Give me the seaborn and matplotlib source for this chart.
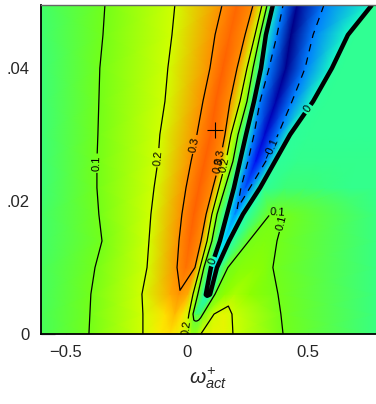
import numpy as np
import matplotlib
matplotlib.use("Agg")
import matplotlib.pyplot as plt
from matplotlib.colors import LinearSegmentedColormap, Normalize
import seaborn as sns


# heights of the sampled profile rows (bottom to top)
ROW_Y = [0.0, 0.003, 0.006, 0.010, 0.014, 0.018, 0.022, 0.026, 0.030, 0.035, 0.040, 0.045, 0.0495]

# omega_act positions of the profile points along every row
ROW_OMEGA = [
    [-0.603, -0.405, -0.182, -0.112, -0.070, -0.037, -0.012, 0.004, 0.017, 0.025, 0.033, 0.041, 0.050, 0.062, 0.103, 0.153, 0.190, 0.397, 0.781],
    [-0.603, -0.401, -0.182, -0.091, -0.050, -0.021, 0.008, 0.025, 0.033, 0.039, 0.045, 0.052, 0.058, 0.066, 0.112, 0.153, 0.186, 0.388, 0.781],
    [-0.603, -0.397, -0.186, -0.070, -0.033, 0.004, 0.025, 0.045, 0.070, 0.079, 0.087, 0.095, 0.103, 0.116, 0.157, 0.198, 0.260, 0.376, 0.781],
    [-0.603, -0.380, -0.165, -0.041, -0.004, 0.033, 0.054, 0.070, 0.099, 0.105, 0.112, 0.118, 0.124, 0.169, 0.219, 0.281, 0.322, 0.355, 0.781],
    [-0.603, -0.351, -0.157, -0.033, 0.012, 0.058, 0.083, 0.103, 0.136, 0.147, 0.155, 0.165, 0.174, 0.256, 0.293, 0.322, 0.347, 0.372, 0.781],
    [-0.603, -0.364, -0.149, -0.021, 0.029, 0.079, 0.103, 0.124, 0.165, 0.182, 0.198, 0.215, 0.231, 0.343, 0.360, 0.372, 0.384, 0.401, 0.781],
    [-0.603, -0.372, -0.136, -0.004, 0.050, 0.107, 0.132, 0.157, 0.194, 0.223, 0.242, 0.260, 0.302, 0.314, 0.405, 0.488, 0.570, 0.674, 0.781],
    [-0.603, -0.372, -0.120, 0.017, 0.074, 0.136, 0.161, 0.190, 0.219, 0.252, 0.285, 0.326, 0.364, 0.376, 0.459, 0.541, 0.624, 0.702, 0.781],
    [-0.603, -0.368, -0.112, 0.041, 0.099, 0.157, 0.182, 0.211, 0.244, 0.277, 0.322, 0.376, 0.426, 0.438, 0.508, 0.574, 0.640, 0.711, 0.781],
    [-0.603, -0.364, -0.091, 0.066, 0.120, 0.178, 0.219, 0.248, 0.277, 0.302, 0.368, 0.434, 0.521, 0.533, 0.583, 0.632, 0.682, 0.731, 0.781],
    [-0.603, -0.360, -0.079, 0.095, 0.149, 0.207, 0.248, 0.273, 0.306, 0.339, 0.409, 0.488, 0.599, 0.612, 0.645, 0.678, 0.711, 0.744, 0.781],
    [-0.603, -0.347, -0.062, 0.116, 0.178, 0.240, 0.281, 0.302, 0.326, 0.372, 0.430, 0.521, 0.665, 0.678, 0.698, 0.719, 0.740, 0.760, 0.781],
    [-0.603, -0.339, -0.050, 0.145, 0.207, 0.273, 0.310, 0.331, 0.355, 0.397, 0.455, 0.566, 0.764, 0.769, 0.773, 0.775, 0.777, 0.779, 0.781],
]

# field value at those points
ROW_VALUE = [
    [0.065, 0.1, 0.2, 0.24, 0.25, 0.23, 0.21, 0.19, 0.17, 0.165, 0.165, 0.17, 0.185, 0.21, 0.22, 0.22, 0.2, 0.1, 0.045],
    [0.065, 0.1, 0.2, 0.25, 0.27, 0.25, 0.2, 0.1, 0.07, 0.065, 0.065, 0.07, 0.08, 0.1, 0.2, 0.22, 0.2, 0.1, 0.045],
    [0.06, 0.1, 0.2, 0.28, 0.295, 0.28, 0.2, 0.1, 0.02, -0.002, -0.006, -0.002, 0.02, 0.1, 0.15, 0.17, 0.15, 0.1, 0.045],
    [0.06, 0.1, 0.2, 0.3, 0.33, 0.3, 0.2, 0.1, 0.0, -0.005, -0.012, -0.005, 0.0, 0.1, 0.13, 0.14, 0.13, 0.1, 0.045],
    [0.055, 0.1, 0.2, 0.3, 0.34, 0.3, 0.2, 0.1, 0.0, -0.02, -0.04, -0.02, 0.0, 0.1, 0.115, 0.12, 0.115, 0.1, 0.045],
    [0.055, 0.1, 0.2, 0.3, 0.345, 0.3, 0.2, 0.1, 0.0, -0.05, -0.09, -0.05, 0.0, 0.1, 0.103, 0.106, 0.103, 0.1, 0.045],
    [0.05, 0.1, 0.2, 0.3, 0.345, 0.3, 0.2, 0.1, 0.0, -0.1, -0.135, -0.1, 0.0, 0.03, 0.05, 0.05, 0.045, 0.04, 0.04],
    [0.05, 0.1, 0.2, 0.3, 0.345, 0.3, 0.2, 0.1, 0.0, -0.1, -0.19, -0.1, 0.0, 0.03, 0.04, 0.04, 0.04, 0.04, 0.04],
    [0.05, 0.1, 0.2, 0.3, 0.345, 0.3, 0.2, 0.1, 0.0, -0.1, -0.23, -0.1, 0.0, 0.03, 0.035, 0.035, 0.035, 0.035, 0.035],
    [0.05, 0.1, 0.2, 0.3, 0.345, 0.3, 0.2, 0.1, 0.0, -0.1, -0.27, -0.1, 0.0, 0.03, 0.035, 0.035, 0.035, 0.035, 0.035],
    [0.05, 0.1, 0.2, 0.3, 0.345, 0.3, 0.2, 0.1, 0.0, -0.1, -0.30, -0.1, 0.0, 0.03, 0.035, 0.035, 0.035, 0.035, 0.035],
    [0.052, 0.1, 0.2, 0.3, 0.34, 0.3, 0.2, 0.1, 0.0, -0.1, -0.31, -0.1, 0.0, 0.03, 0.035, 0.035, 0.035, 0.035, 0.035],
    [0.055, 0.1, 0.2, 0.3, 0.34, 0.3, 0.2, 0.1, 0.0, -0.1, -0.30, -0.1, 0.0, 0.03, 0.035, 0.035, 0.035, 0.035, 0.035],
]

THIN_LEVELS = [-0.1, 0.1, 0.2, 0.3]
THICK_LEVELS = [0.0]

# marked operating point
MARK_OMEGA = 0.116
MARK_Y = 0.0307

X_TICKS = [-0.5, 0.0, 0.5]
X_TICK_LABELS = ["\u22120.5", "0", "0.5"]
Y_TICKS = [0.0, 0.02, 0.04]
Y_TICK_LABELS = ["0", ".02", ".04"]


def make_cmap(vmin, vmax):
    anchors = [
        (-0.32, (0.00, 0.00, 0.50)),
        (-0.26, (0.00, 0.00, 0.70)),
        (-0.19, (0.00, 0.05, 0.95)),
        (-0.10, (0.00, 0.50, 1.00)),
        (-0.03, (0.00, 0.90, 1.00)),
        (0.00, (0.10, 1.00, 0.75)),
        (0.04, (0.20, 1.00, 0.55)),
        (0.07, (0.30, 1.00, 0.30)),
        (0.10, (0.45, 1.00, 0.10)),
        (0.15, (0.56, 1.00, 0.00)),
        (0.20, (0.82, 1.00, 0.00)),
        (0.245, (1.00, 0.92, 0.00)),
        (0.29, (1.00, 0.60, 0.00)),
        (0.33, (1.00, 0.45, 0.00)),
        (0.36, (1.00, 0.33, 0.00)),
    ]
    stops = [((v - vmin) / (vmax - vmin), c) for v, c in anchors]
    return LinearSegmentedColormap.from_list("field", stops)


def fmt_level(v):
    return f"{v:g}".replace("-", "\u2212")


def main():
    sns.set_theme(style="ticks")
    plt.rcParams["font.family"] = ["Liberation Sans", "DejaVu Sans"]
    plt.rcParams["mathtext.fontset"] = "custom"
    plt.rcParams["mathtext.rm"] = "Liberation Sans"
    plt.rcParams["mathtext.it"] = "Liberation Sans:italic"

    X = np.array(ROW_OMEGA)
    Z = np.array(ROW_VALUE)
    Y = np.repeat(np.array(ROW_Y)[:, None], X.shape[1], axis=1)

    vmin, vmax = -0.32, 0.36
    cmap = make_cmap(vmin, vmax)

    fig = plt.figure(figsize=(3.76, 4.04), dpi=100)
    ax = fig.add_axes([41 / 376, 1 - 334 / 404, 335 / 376, 329 / 404])

    ax.pcolormesh(X, Y, Z, shading="gouraud", cmap=cmap, norm=Normalize(vmin, vmax), rasterized=True)

    thin = ax.contour(X, Y, Z, levels=THIN_LEVELS, colors="black", linewidths=0.9,
                      linestyles=[(0, (6, 5)), "-", "-", "-"])
    thick = ax.contour(X, Y, Z, levels=THICK_LEVELS, colors="black", linewidths=3.2)

    ax.clabel(thin, fmt=fmt_level, fontsize=8, inline=True, inline_spacing=2,
              manual=[(-0.40, 0.0257), (-0.15, 0.0266), (0.01, 0.0287),
                      (0.105, 0.0269), (0.12, 0.026), (0.135, 0.0257),
                      (0.34, 0.028), (0.37, 0.0192), (0.42, 0.0165), (-0.06, 0.0012)])
    ax.clabel(thick, fmt=fmt_level, fontsize=8, inline=True, inline_spacing=2,
              manual=[(0.47, 0.0346), (0.09, 0.0111)])

    ax.plot(MARK_OMEGA, MARK_Y, marker="+", color="black", markersize=11, mew=0.8, ls="none")

    ax.set_xlim(-0.603, 0.781)
    ax.set_ylim(0, 0.0495)
    ax.set_xticks(X_TICKS)
    ax.set_xticklabels(X_TICK_LABELS)
    ax.set_yticks(Y_TICKS)
    ax.set_yticklabels(Y_TICK_LABELS)
    ax.tick_params(direction="in", length=10, width=1, color="0.6", labelsize=12,
                   top=True, right=False, pad=8)
    ax.set_xlabel(r"$\omega^{+}_{act}$", fontsize=15, labelpad=4)
    ax.set_ylabel("")

    for side in ["left", "bottom"]:
        ax.spines[side].set_color("black")
        ax.spines[side].set_linewidth(1.3)
    ax.spines["top"].set_color("0.4")
    ax.spines["top"].set_linewidth(1.0)
    ax.spines["right"].set_visible(False)

    fig.savefig("out.png", dpi=100)
    plt.close(fig)


if __name__ == "__main__":
    main()
